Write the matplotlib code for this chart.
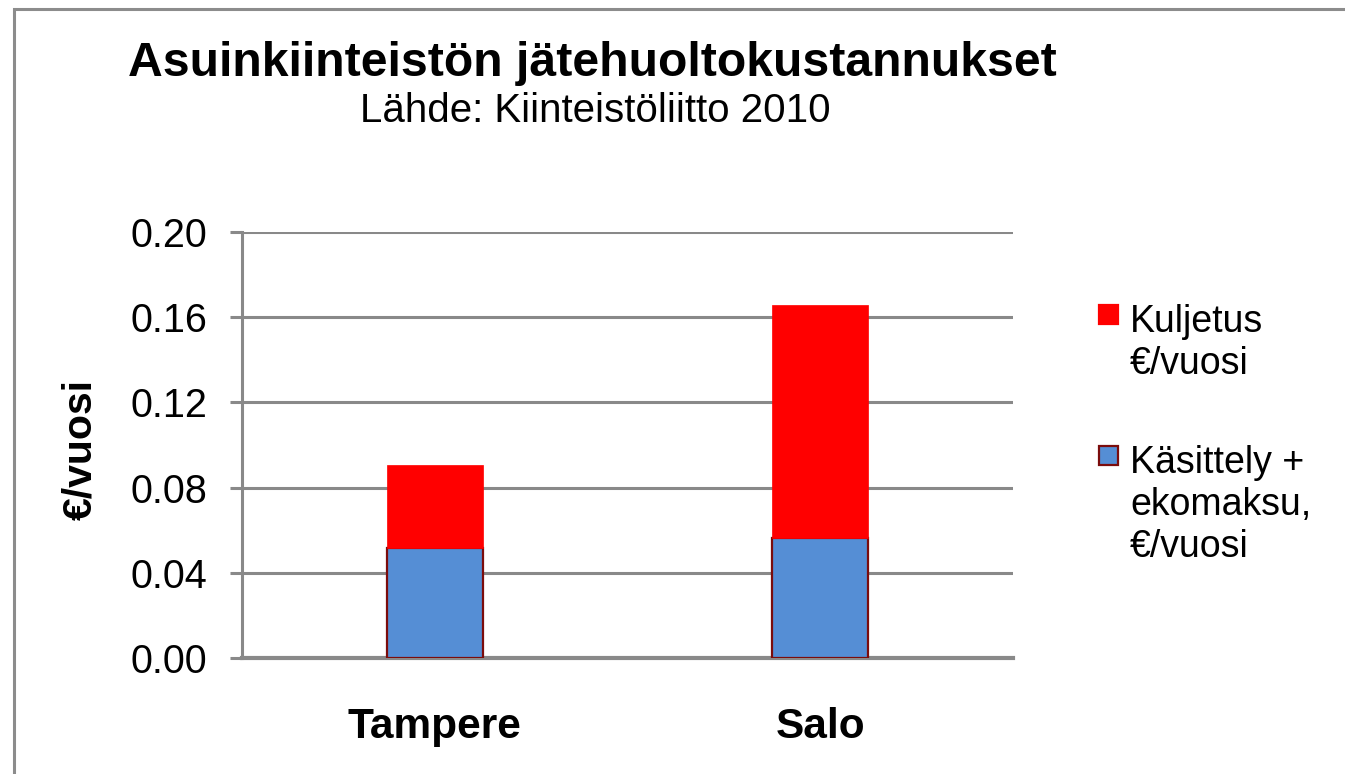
import matplotlib.pyplot as plt
from matplotlib.patches import Rectangle

plt.rcParams['font.family'] = ['Liberation Sans', 'DejaVu Sans']

# Data
cities = ['Tampere', 'Salo']
kasittely = [0.0515, 0.0563]   # Käsittely + ekomaksu, €/vuosi
kuljetus = [0.0389, 0.1096]    # Kuljetus €/vuosi
yticks = [0.00, 0.04, 0.08, 0.12, 0.16, 0.20]
labels = ['Kuljetus\n€/vuosi', 'Käsittely +\nekomaksu,\n€/vuosi']

W, H = 1345, 774
fig = plt.figure(figsize=(W / 100, H / 100), dpi=100)
ax = fig.add_axes([242 / W, 1 - 658 / H, (1013 - 242) / W, (658 - 232) / H])

grey = '#898989'
blue = '#558ED5'
red = '#FF0000'
edge = '#7B0C0C'

x = list(range(len(cities)))
ax.bar(x, kasittely, width=0.25, color=blue, edgecolor=edge, linewidth=1.6, zorder=3)
ax.bar(x, kuljetus, width=0.25, bottom=kasittely, color=red, edgecolor=red,
       linewidth=0.5, zorder=3)

ax.set_xlim(-0.5, 1.5)
ax.set_ylim(0, 0.20)
ax.set_yticks(yticks)
ax.set_yticklabels(['%.2f' % v for v in yticks], fontsize=28.5)
ax.yaxis.grid(True, color=grey, linewidth=2.2, zorder=0)
ax.set_axisbelow(True)
ax.tick_params(axis='y', length=9, width=2.2, color=grey, pad=16)
ax.set_xticks(x)
ax.set_xticklabels(cities, fontsize=30.5, fontweight='bold')
ax.tick_params(axis='x', length=0, pad=35)

for s in ['top', 'right']:
    ax.spines[s].set_visible(False)
ax.spines['left'].set_color(grey)
ax.spines['left'].set_linewidth(2.2)
ax.spines['bottom'].set_color(grey)
ax.spines['bottom'].set_linewidth(3)

fig.text(80 / W, 1 - 449 / H, '€/vuosi', rotation=90, ha='center', va='center',
         fontsize=29.5, fontweight='bold')

# Titles
fig.text(592 / W, 1 - 76 / H, 'Asuinkiinteistön jätehuoltokustannukset',
         ha='center', va='baseline', fontsize=34.7, fontweight='bold')
fig.text(595 / W, 1 - 122 / H, 'Lähde: Kiinteistöliitto 2010',
         ha='center', va='baseline', fontsize=29)

# Legend
leg_colors = [(red, red), (blue, edge)]
leg_box_y = [305, 446]
leg_base_y = [332, 473]
for lab, (fc, ec), by, ty in zip(labels, leg_colors, leg_box_y, leg_base_y):
    fig.patches.append(Rectangle((1099 / W, 1 - (by + 19) / H), 19 / W, 19 / H,
                                 transform=fig.transFigure, facecolor=fc,
                                 edgecolor=ec, linewidth=1.6))
    for i, line in enumerate(lab.split('\n')):
        fig.text(1130 / W, 1 - (ty + 42 * i) / H, line, ha='left', va='baseline',
                 fontsize=27)

# Outer frame
fig.patches.append(Rectangle((14 / W, -0.05), 1.1, 1 - 9 / H + 0.05,
                             transform=fig.transFigure, fill=False,
                             edgecolor='#8C8C8C', linewidth=2.2))

fig.savefig('out.png', dpi=100)
